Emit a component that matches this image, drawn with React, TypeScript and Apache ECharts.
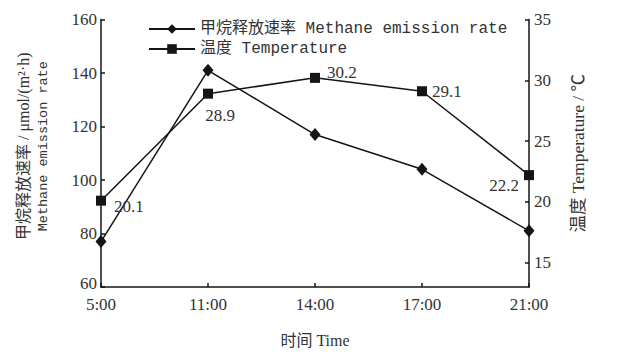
import React, { useEffect, useRef } from "react";
import * as echarts from "echarts";

const times = ["5:00", "11:00", "14:00", "17:00", "21:00"];
const methaneRate = [77, 141, 117, 104, 81];
const temperature = [20.1, 28.9, 30.2, 29.1, 22.2];
const rightTicks = [15, 20, 25, 30, 35];

const methaneName = "甲烷释放速率 Methane emission rate";
const tempName = "温度 Temperature";

const INK = "#151515";
const TEXT = "#333";
const SERIF = "'Liberation Serif', 'Noto Sans CJK SC', serif";
const MONO = "'Liberation Mono', 'Noto Sans CJK SC', monospace";

// label placement for each temperature point (style only)
const tempLabelStyle = [
  { position: "right", offset: [3, 6], distance: 5 },
  { position: "bottom", offset: [12, 3], distance: 5 },
  { position: "right", offset: [2, -5], distance: 5 },
  { position: "right", offset: [0, 0], distance: 5 },
  { position: "left", offset: [0, 10], distance: 5 },
];

export default function App() {
  const ref = useRef<HTMLDivElement>(null);
  useEffect(() => {
    document.body.style.margin = "0";
    if (!ref.current) return;
    const chart = echarts.init(ref.current, null, { renderer: "svg" });
    const axisLine = { show: true, lineStyle: { color: INK, width: 1.5 } };
    chart.setOption({
      animation: false,
      backgroundColor: "#fff",
      grid: { left: 101, right: 97, top: 19.5, bottom: 61 },
      legend: {
        orient: "vertical",
        left: 148,
        top: 21,
        padding: 0,
        itemWidth: 46,
        itemHeight: 12,
        itemGap: 4,
        textStyle: { fontFamily: MONO, fontSize: 16, color: TEXT },
        data: [methaneName, tempName],
      },
      xAxis: {
        type: "category",
        data: times,
        boundaryGap: false,
        axisLine,
        axisTick: { show: true, inside: true, length: 4, lineStyle: { color: INK, width: 1.5 } },
        axisLabel: { fontFamily: SERIF, fontSize: 17, color: TEXT, margin: 9 },
        name: "时间 Time",
        nameLocation: "middle",
        nameGap: 45,
        nameTextStyle: { fontFamily: SERIF, fontSize: 16, color: TEXT },
        splitLine: { show: false },
      },
      yAxis: [
        {
          type: "value",
          min: 60,
          max: 160,
          interval: 20,
          position: "left",
          axisLine,
          axisTick: { show: true, inside: true, length: 4, lineStyle: { color: INK, width: 1.5 } },
          axisLabel: {
            fontFamily: SERIF,
            fontSize: 17,
            color: TEXT,
            margin: 4,
            formatter: (v: number) => (v === 60 ? `{lo|${v}}` : `${v}`),
            rich: {
              lo: { fontFamily: SERIF, fontSize: 17, color: TEXT, padding: [0, 0, 8, 0] },
            },
          },
          splitLine: { show: false },
          name: "{a|甲烷释放速率 / μmol/(m²·h)}\n{b|Methane emission rate}",
          nameLocation: "middle",
          nameRotate: 90,
          nameGap: 48,
          nameTextStyle: {
            color: TEXT,
            padding: [0, 0, 0, 14],
            rich: {
              a: { fontFamily: SERIF, fontSize: 16, color: TEXT, lineHeight: 20 },
              b: { fontFamily: MONO, fontSize: 13.5, color: TEXT, lineHeight: 20 },
            },
          },
        },
        {
          type: "value",
          min: 13,
          max: 35,
          position: "right",
          axisLine,
          axisTick: {
            show: true,
            inside: true,
            length: 4,
            customValues: rightTicks,
            lineStyle: { color: INK, width: 1.5 },
          },
          axisLabel: {
            fontFamily: SERIF,
            fontSize: 17,
            color: TEXT,
            margin: 5,
            customValues: rightTicks,
          },
          splitLine: { show: false },
          name: "温度 Temperature / ℃",
          nameLocation: "middle",
          nameRotate: 90,
          nameGap: 40,
          nameTextStyle: { fontFamily: SERIF, fontSize: 17.5, color: TEXT },
        },
      ],
      series: [
        {
          name: methaneName,
          type: "line",
          yAxisIndex: 0,
          data: methaneRate,
          symbol: "diamond",
          symbolSize: [11, 13],
          itemStyle: { color: INK },
          lineStyle: { color: INK, width: 1.5 },
        },
        {
          name: tempName,
          type: "line",
          yAxisIndex: 1,
          data: temperature.map((v, i) => ({
            value: v,
            label: tempLabelStyle[i],
          })),
          symbol: "rect",
          symbolSize: 10,
          itemStyle: { color: INK },
          lineStyle: { color: INK, width: 1.5 },
          label: {
            show: true,
            fontFamily: SERIF,
            fontSize: 17,
            color: TEXT,
          },
        },
      ],
    });
    return () => chart.dispose();
  }, []);
  return <div ref={ref} style={{ width: 626, height: 353 }} />;
}
